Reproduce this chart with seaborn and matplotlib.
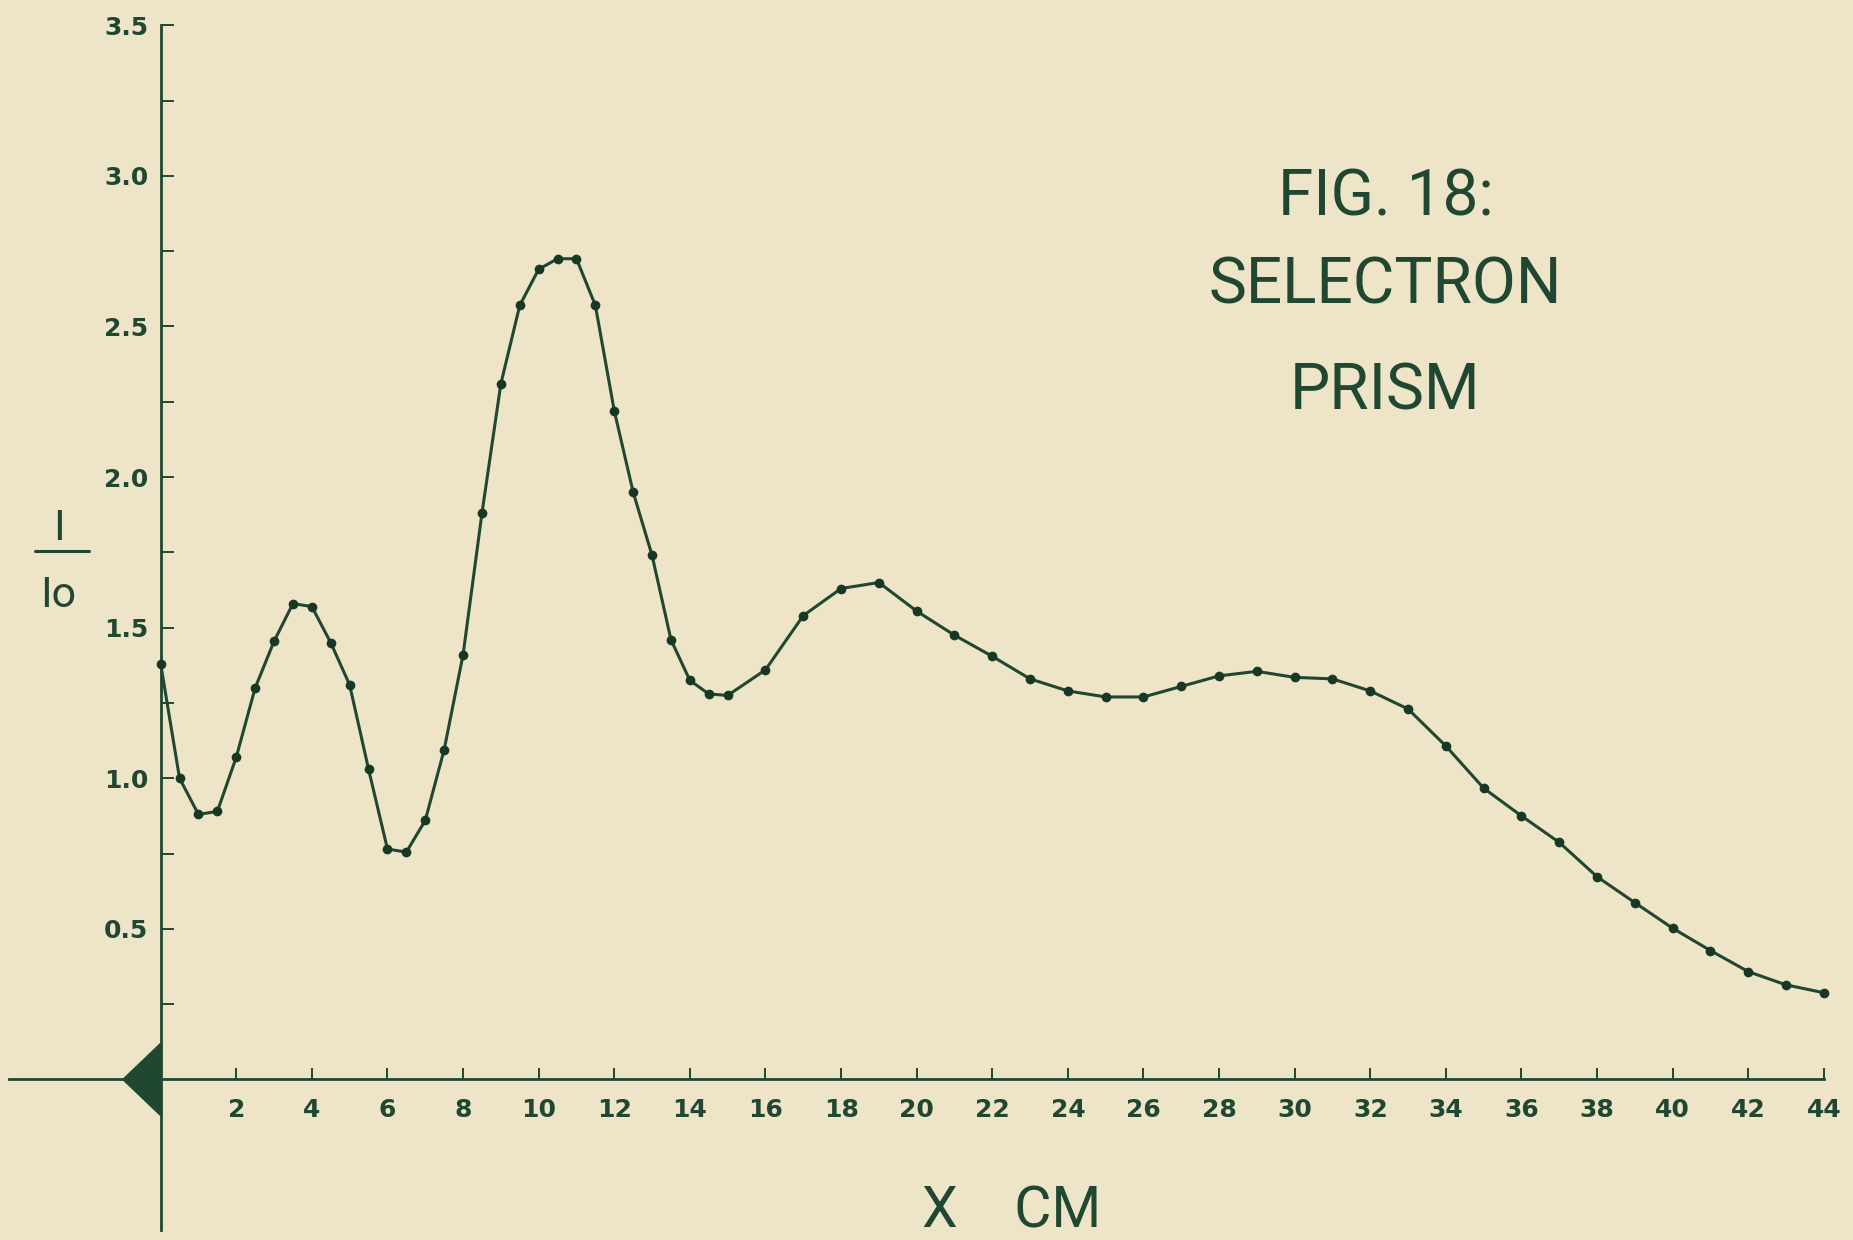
import matplotlib
matplotlib.use("Agg")
import matplotlib.pyplot as plt
import numpy as np
import pandas as pd
import seaborn as sns

# ---- data (X in cm, I/Io) ----
x_cm = [0, 0.5, 1, 1.5, 2, 2.5, 3, 3.5, 4, 4.5, 5, 5.5, 6, 6.5, 7, 7.5, 8,
        8.5, 9, 9.5, 10, 10.5, 11, 11.5, 12, 12.5, 13, 13.5, 14, 14.5, 15,
        16, 17, 18, 19, 20, 21, 22, 23, 24, 25, 26, 27, 28, 29, 30,
        31, 32, 33, 34, 35, 36, 37, 38, 39, 40, 41, 42, 43, 44]
intensity = [1.38, 1.00, 0.88, 0.89, 1.07, 1.30, 1.455, 1.58, 1.57, 1.45, 1.31,
             1.03, 0.765, 0.755, 0.86, 1.095, 1.41,
             1.88, 2.31, 2.57, 2.69, 2.725, 2.725, 2.57, 2.22, 1.95, 1.74,
             1.46, 1.325, 1.28, 1.275,
             1.36, 1.54, 1.63, 1.65, 1.555, 1.475, 1.405, 1.33, 1.29, 1.27,
             1.27, 1.305, 1.34, 1.355, 1.335,
             1.33, 1.29, 1.23, 1.107, 0.967, 0.875, 0.787, 0.673, 0.587,
             0.502, 0.428, 0.358, 0.314, 0.288]
x_ticks = list(range(2, 45, 2))
x_tick_labels = [str(v) for v in x_ticks]
y_major = [0.5, 1.0, 1.5, 2.0, 2.5, 3.0, 3.5]
y_major_labels = ["0.5", "1.0", "1.5", "2.0", "2.5", "3.0", "3.5"]
y_minor = [0.25, 0.75, 1.25, 1.75, 2.25, 2.75, 3.25]
title_lines = ["FIG. 18:", "SELECTRON", "PRISM"]
x_label = "X    CM"

# ---- style ----
sns.set_theme(style="white")
plt.rcParams["font.family"] = ["DejaVu Sans"]

PAPER = "#EEE4C8"
INK = "#1F4731"
LETTER_FONT = ["Roboto", "DejaVu Sans"]

fig = plt.figure(figsize=(18.53, 12.40), dpi=100, facecolor=PAPER)
ax = fig.add_axes([0, 0, 1, 1])
ax.set_facecolor(PAPER)

df = pd.DataFrame({"x": x_cm, "y": intensity})
sns.lineplot(data=df, x="x", y="y", ax=ax, color=INK, linewidth=2.2,
             marker="o", markersize=7, markeredgewidth=0,
             markerfacecolor="#183826", sort=False, zorder=5)

ax.set_xlim(-4.25, 44.77)
ax.set_ylim(-0.533, 3.584)
ax.set_xlabel("")
ax.set_ylabel("")

# axes drawn as crossing lines through the origin
for side in ("top", "right"):
    ax.spines[side].set_visible(False)
ax.spines["left"].set_position(("data", 0))
ax.spines["bottom"].set_position(("data", 0))
ax.spines["left"].set_bounds(-0.5, 3.5)
ax.spines["bottom"].set_bounds(-4.0, 44)
for side in ("left", "bottom"):
    ax.spines[side].set_color(INK)
    ax.spines[side].set_linewidth(2.0)

ax.set_xticks(x_ticks)
ax.set_xticklabels(x_tick_labels)
ax.set_yticks(y_major)
ax.set_yticklabels(y_major_labels)
ax.set_yticks(y_minor, minor=True)
ax.tick_params(axis="x", which="both", bottom=True, direction="in", length=8,
               width=1.4, color=INK, pad=13, labelsize=18, labelcolor=INK)
ax.tick_params(axis="y", which="both", left=True, direction="in", length=9,
               width=1.4, color=INK, pad=9, labelsize=18, labelcolor=INK)
for lbl in ax.get_xticklabels() + ax.get_yticklabels():
    lbl.set_fontweight("bold")

# pointer triangle at the origin
ax.fill([0, -1.0, 0], [0.12, 0.0, -0.12], color=INK, zorder=4, clip_on=False)

# title block
for txt, yb in zip(title_lines, [2.87, 2.575, 2.225]):
    ax.text(32.4, yb, txt, ha="center", va="baseline", fontsize=46,
            family=LETTER_FONT, fontweight="normal", color=INK)

# axis labels
ax.text(22.5, -0.49, x_label, ha="center", va="baseline", fontsize=41,
        family=LETTER_FONT, fontweight="normal", color=INK)
ax.text(-2.69, 1.79, "I", ha="center", va="baseline", fontsize=31,
        family=LETTER_FONT, fontweight="normal", color=INK)
ax.plot([-3.33, -1.90], [1.755, 1.755], color=INK, lw=2.2, clip_on=False)
ax.text(-2.72, 1.57, "Io", ha="center", va="baseline", fontsize=31,
        family=LETTER_FONT, fontweight="normal", color=INK)

fig.savefig("out.png", dpi=100, facecolor=PAPER)
